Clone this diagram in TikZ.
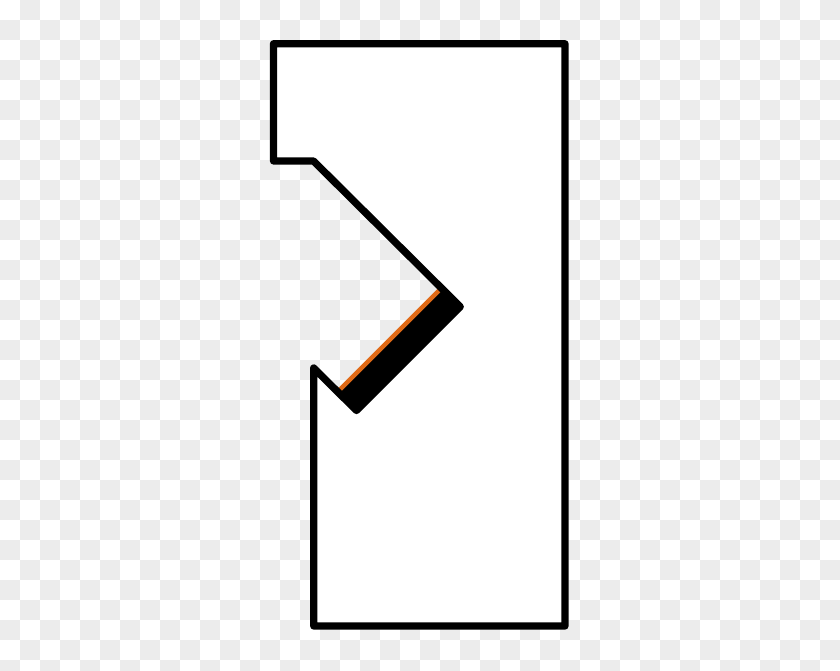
\documentclass[tikz,border=0pt]{standalone}
\definecolor{checkgray}{RGB}{236,236,236}
\definecolor{rimorange}{RGB}{224,106,22}
\tikzset{
  outline/.style={draw=black, line width=7.3pt, line join=round},
  rimband/.style={fill=black},
  rimline/.style={draw=rimorange, line width=4.5pt}
}
\begin{document}
\begin{tikzpicture}[x=1pt,y=-1pt]
\useasboundingbox (0,0) rectangle (840,670);
% checkerboard background
\fill[white] (0,0) rectangle (840,670);
\foreach \i in {0,...,41}{
  \foreach \j in {0,...,33}{
    \pgfmathtruncatemacro\s{\i+\j}
    \ifodd\s
      \fill[checkgray] (\i*20,\j*20) rectangle ++(20,20);
    \fi
  }
}
% white body
\fill[white] (273.5,43.7) -- (565,43.7) -- (565,626) -- (313.7,626) -- (313.7,368)
  -- (356.5,410.5) -- (460.25,306.75) -- (313.5,161) -- (273.5,161) -- cycle;
% black rim band along the lower notch edge
\fill[rimband] (337.75,391.75) -- (356.5,410.5) -- (460.25,306.75) -- (441.5,288) -- cycle;
% orange edge line
\draw[rimline] (337.75,391.75) -- (441.5,288);
% outline
\draw[outline] (273.5,43.7) -- (565,43.7) -- (565,626) -- (313.7,626) -- (313.7,368)
  -- (356.5,410.5) -- (460.25,306.75) -- (313.5,161) -- (273.5,161) -- cycle;
\end{tikzpicture}
\end{document}
